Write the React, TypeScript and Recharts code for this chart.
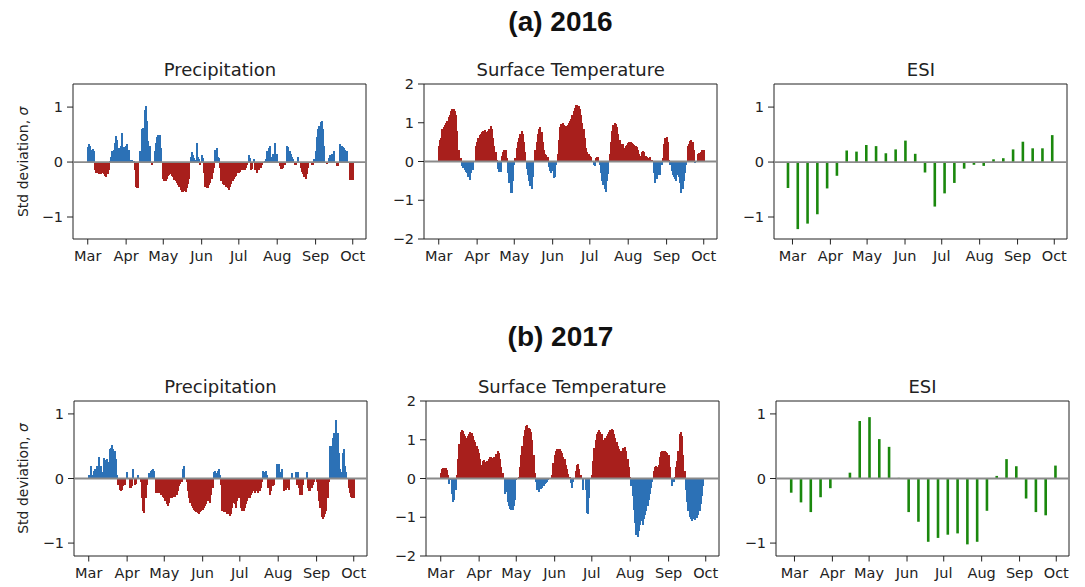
import React from 'react'
import { BarChart, Bar, XAxis, YAxis, Cell, ReferenceLine, ReferenceArea } from 'recharts'

// days counted from 1 March
const monthTicks = [0, 31, 61, 92, 122, 153, 184, 214]
const monthNames = ['Mar', 'Apr', 'May', 'Jun', 'Jul', 'Aug', 'Sep', 'Oct']

// daily anomalies, 1 Mar .. 1 Oct (one line per month)
const precip2016 = [
  0.28, 0.33, 0.3, 0.22, 0.24, 0.2, -0.15, -0.2, -0.2, -0.21, -0.2, -0.22, -0.2, -0.22, -0.25, -0.27, -0.22, -0.15, 0.02, 0.1, 0.2, 0.22, 0.35, 0.47, 0.4, 0.25, 0.2, 0.3, 0.52, 0.27, 0.25,
  0.3, 0.33, 0.22, 0.03, 0.03, 0.04, 0.02, -0.15, -0.45, -0.48, -0.47, 0.2, 0, 0.6, 0.62, 0.95, 1.02, 0.75, 0.38, 0.3, 0, -0.05, 0, 0.2, 0.35, 0.45, 0.5, 0.5, 0.25, 0,
  -0.3, -0.35, -0.35, -0.3, -0.25, -0.23, -0.22, -0.25, -0.28, -0.32, -0.35, -0.38, -0.42, -0.45, -0.5, -0.55, -0.55, -0.53, -0.55, -0.48, -0.4, -0.3, 0.1, 0.18, 0.12, 0.08, 0.03, 0.35, 0.1, 0.05, -0.05,
  0.12, 0.08, -0.2, -0.45, -0.48, -0.47, -0.42, -0.38, -0.3, -0.2, -0.1, 0.22, 0.25, 0.1, 0.08, -0.1, -0.35, -0.4, -0.42, -0.38, -0.45, -0.48, -0.5, -0.45, -0.4, -0.35, -0.3, -0.28, -0.25, -0.2,
  -0.2, -0.18, -0.15, -0.15, -0.12, -0.15, -0.1, -0.05, 0.12, 0.08, -0.15, -0.12, 0.05, -0.15, -0.1, -0.2, -0.15, -0.08, -0.1, -0.05, 0, 0.02, 0.05, 0.2, 0.25, 0.3, 0.1, 0.08, 0.15, 0.35, 0.15,
  0.15, 0, -0.08, -0.12, -0.12, -0.1, -0.05, 0, 0.3, 0.28, 0.2, 0.15, 0.1, 0.05, -0.05, -0.05, 0, 0.1, 0, -0.1, -0.18, -0.22, -0.28, -0.3, -0.22, -0.1, 0, 0, -0.05, -0.05, 0.05,
  0.2, 0.45, 0.6, 0.65, 0.72, 0.75, 0.6, 0.3, 0, -0.03, 0, 0.08, 0.12, 0.15, 0.1, 0.2, 0, -0.08, -0.08, 0, 0.32, 0.3, 0.28, 0.25, 0.22, 0.2, 0, 0, -0.33, -0.33,
  -0.33,
]

const temp2016 = [
  0.4, 0.55, 0.6, 0.85, 0.9, 0.95, 1.0, 1.05, 1.15, 1.2, 1.3, 1.35, 1.35, 1.3, 1.2, 0.8, 0.3, 0.08, 0.1, -0.12, -0.18, -0.22, -0.28, -0.3, -0.4, -0.48, -0.3, -0.2, -0.22, 0, 0.4,
  0.5, 0.6, 0.68, 0.72, 0.75, 0.8, 0.82, 0.75, 0.6, 0.8, 0.85, 0.92, 0.85, 0.6, 0.4, 0.25, 0.05, -0.2, -0.28, -0.28, 0.15, 0.25, 0.3, 0.3, 0.1, -0.3, -0.55, -0.8, -0.82, -0.5,
  -0.1, 0.1, 0.35, 0.5, 0.6, 0.72, 0.78, 0.72, 0.5, 0.25, -0.2, -0.35, -0.5, -0.62, -0.72, -0.4, 0, 0.3, 0.5, 0.7, 0.85, 0.88, 0.75, 0.5, 0.3, 0.2, 0.18, 0.12, -0.15, -0.25, -0.3,
  -0.25, -0.42, -0.4, -0.1, 0.2, 0.55, 0.9, 0.98, 1.0, 0.95, 0.9, 0.92, 0.95, 1.0, 1.05, 1.1, 1.2, 1.3, 1.38, 1.45, 1.45, 1.42, 1.35, 1.2, 1.0, 0.85, 0.6, 0.35, 0.25, 0.2,
  0.15, 0.12, 0, -0.1, -0.12, 0.1, 0.12, 0.12, -0.1, -0.3, -0.5, -0.6, -0.72, -0.78, -0.5, -0.32, 0.2, 0.5, 0.8, 0.95, 1.0, 0.98, 0.9, 0.7, 0.55, 0.45, 0.4, 0.45, 0.35, 0.4, 0.42,
  0.48, 0.5, 0.5, 0.48, 0.45, 0.42, 0.4, 0.38, 0.3, 0.2, 0.15, 0.25, 0.28, 0.25, 0.15, 0.12, 0.1, 0.1, 0.12, 0.05, 0, -0.3, -0.55, -0.45, -0.35, -0.1, -0.35, -0.1, 0.1, 0.45, 0.6,
  0.62, 0.5, 0.05, -0.1, -0.25, -0.35, -0.4, -0.45, -0.5, -0.35, -0.4, -0.55, -0.82, -0.7, -0.5, -0.3, -0.1, 0.4, 0.45, 0.52, 0.55, 0.5, 0.3, -0.05, 0, 0.2, 0.22, 0.22, 0.25, 0.3,
  0.3,
]

const precip2017 = [
  0.05, 0.05, 0.2, 0.05, 0.12, 0.15, 0.1, 0.2, 0.34, 0.15, 0.2, 0.1, 0.32, 0.28, 0.15, 0.3, 0.25, 0.45, 0.48, 0.52, 0.45, 0.42, 0.3, 0.05, -0.1, -0.18, -0.2, -0.18, -0.12, -0.1, 0,
  0.1, 0, -0.15, -0.15, -0.12, 0.15, -0.1, -0.08, 0, 0.05, 0, -0.05, -0.3, -0.5, -0.53, -0.3, -0.1, 0, 0.08, 0.12, 0.13, 0.15, 0.12, -0.22, -0.23, -0.23, -0.22, -0.25, -0.25, -0.28,
  -0.3, -0.35, -0.4, -0.42, -0.38, -0.3, -0.3, -0.28, -0.28, -0.28, -0.25, -0.2, -0.12, -0.08, -0.05, 0.15, 0.2, 0, -0.05, -0.2, -0.3, -0.38, -0.42, -0.45, -0.48, -0.5, -0.52, -0.53, -0.55, -0.52, -0.5,
  -0.48, -0.45, -0.42, -0.4, -0.35, -0.3, -0.38, -0.25, -0.15, 0.1, 0.12, 0.08, 0.12, 0.15, 0.05, -0.1, -0.5, -0.52, -0.5, -0.52, -0.55, -0.55, -0.58, -0.55, -0.45, -0.38, -0.4, -0.45, -0.35, -0.3,
  -0.28, -0.45, -0.5, -0.5, -0.45, -0.4, -0.35, -0.3, -0.3, -0.25, -0.22, -0.2, -0.22, -0.2, -0.18, -0.22, -0.2, -0.15, -0.05, 0.12, 0.1, 0.12, 0.05, -0.15, -0.25, -0.2, -0.1, -0.12, -0.1, 0, 0.22,
  0.15, 0.23, 0.1, 0.15, 0, -0.2, -0.18, -0.15, -0.15, -0.18, 0, 0.08, 0, 0, 0.1, -0.1, 0.1, -0.15, -0.25, -0.25, -0.1, 0, 0, 0.1, -0.15, -0.2, -0.2, -0.15, -0.1, -0.05, 0,
  -0.05, -0.2, -0.35, -0.45, -0.6, -0.62, -0.6, -0.55, -0.5, -0.3, -0.05, 0.5, 0.5, 0.62, 0.7, 0.65, 0.9, 0.7, 0.4, 0.15, 0.1, 0.4, 0.45, 0.2, 0.1, 0, -0.15, -0.22, -0.28, -0.3,
  -0.3,
]

const temp2017 = [
  0.15, 0.25, 0.28, 0.28, 0.27, 0.22, 0.1, -0.15, -0.05, -0.4, -0.6, -0.55, -0.3, 0.1, 0.5, 0.9, 1.2, 1.25, 1.22, 1.15, 1.1, 1.05, 1.1, 1.15, 1.2, 1.18, 1.1, 1.0, 0.95, 0.85, 0.75,
  0.65, 0.5, 0.35, 0.45, 0.48, 0.42, 0.45, 0.4, 0.5, 0.55, 0.55, 0.52, 0.55, 0.5, 0.62, 0.7, 0.65, 0.5, 0.3, 0.15, 0, -0.4, -0.35, -0.6, -0.7, -0.78, -0.8, -0.82, -0.7, -0.55,
  -0.05, 0, 0.05, 0.3, 0.6, 0.85, 1.1, 1.25, 1.35, 1.38, 1.3, 1.28, 1.2, 1.0, 0.6, 0.15, -0.1, -0.3, -0.35, -0.2, -0.28, -0.25, -0.2, -0.15, -0.12, -0.08, -0.05, 0, 0, 0.1, 0.4,
  0.6, 0.7, 0.75, 0.75, 0.75, 0.72, 0.65, 0.55, 0.5, 0.35, 0.25, 0.12, 0.03, -0.12, -0.25, -0.1, 0, 0.2, 0.35, 0.38, 0.25, 0.1, 0, -0.3, 0, -0.3, -0.9, -0.92, -0.5, 0,
  0.1, 0.45, 0.8, 1.0, 1.15, 1.2, 1.25, 1.2, 1.15, 1.0, 0.95, 1.05, 1.1, 1.15, 1.2, 1.25, 1.28, 1.25, 1.15, 1.05, 0.95, 0.85, 0.75, 0.7, 0.72, 0.78, 0.8, 0.82, 0.7, 0.5, 0.3,
  0.05, -0.2, -0.45, -0.8, -1.15, -1.45, -1.5, -1.35, -1.2, -1.1, -1.2, -1.05, -0.95, -0.85, -0.7, -0.55, -0.4, -0.25, -0.1, 0.2, 0.3, 0.32, 0.3, 0.35, 0.55, 0.68, 0.72, 0.7, 0.7, 0.68, 0.66,
  0.6, 0.3, 0, -0.2, -0.1, 0.05, 0.3, 0.45, 0.7, 1.15, 1.2, 1.1, 0.6, 0.2, -0.3, -0.6, -0.85, -1.0, -1.05, -1.1, -1.05, -1.08, -1.0, -1.02, -0.95, -0.85, -0.65, -0.45, -0.2, 0,
  0,
]

// 8-day ESI composites (day offset from 1 March)
const esiDays2016 = [-4, 4, 12, 20, 28, 36, 44, 52, 60, 68, 76, 84, 92, 100, 108, 116, 124, 132, 140, 148, 156, 164, 172, 180, 188, 196, 204, 212]
const esi2016 = [-0.47, -1.22, -1.12, -0.95, -0.48, -0.25, 0.21, 0.19, 0.31, 0.29, 0.16, 0.23, 0.39, 0.15, -0.19, -0.81, -0.57, -0.38, -0.12, -0.05, -0.07, 0.05, 0.07, 0.23, 0.37, 0.25, 0.25, 0.49]
const esiDays2017 = [-3, 5, 13, 21, 29, 37, 45, 53, 61, 69, 77, 85, 93, 101, 109, 117, 125, 133, 141, 149, 157, 165, 173, 181, 189, 197, 205, 213]
const esi2017 = [-0.22, -0.37, -0.52, -0.29, -0.15, 0, 0.09, 0.89, 0.95, 0.61, 0.49, 0.01, -0.52, -0.67, -0.98, -0.92, -0.87, -0.85, -1.02, -0.98, -0.5, 0.04, 0.3, 0.19, -0.31, -0.52, -0.57, 0.2]

const dailyDays = precip2016.map((_, i) => i)

const RED = '#a81f1c'
const BLUE = '#2c71b6'
const GREEN = '#1a880d'
const INK = '#222'

const PW = 293
const PH = 155
const YW = 50
const MT = 14
const MR = 10
const XH = 36

const fmtY = (v: number) => (v < 0 ? `\u2212${-v}` : `${v}`)
const fmtX = (v: number) => monthNames[monthTicks.indexOf(v)] ?? ''

// daily bars: widened and pixel-snapped so neighbouring days merge into a solid fill
const DailyBar = (props: any) => {
  const { x, y, width, height, fill } = props
  if (!height) return null
  const top = Math.min(y, y + height)
  return <rect x={x - 0.4} y={top} width={width + 1} height={Math.abs(height)} fill={fill} shapeRendering="crispEdges" />
}

type PanelProps = {
  left: number
  top: number
  days: number[]
  values: number[]
  xDomain: [number, number]
  yDomain: [number, number]
  yTicks: number[]
  colorOf: (v: number) => string
  barSize?: number
  daily?: boolean
}

function Panel({ left, top, days, values, xDomain, yDomain, yTicks, colorOf, barSize, daily }: PanelProps) {
  const data = values.map((v, i) => ({ day: days[i], v }))
  return (
    <div style={{ position: 'absolute', left: left - YW, top: top - MT }}>
      <BarChart width={YW + PW + MR} height={MT + PH + XH} data={data}
        margin={{ top: MT, right: MR, left: 0, bottom: 0 }} barCategoryGap={0} barGap={0}>
        <XAxis dataKey="day" type="number" domain={xDomain} allowDataOverflow ticks={monthTicks}
          interval={0} tickFormatter={fmtX} height={XH} axisLine={false}
          tickSize={5.5} tickMargin={6} tickLine={{ stroke: INK }}
          tick={{ fill: INK, fontSize: 14.5 }} />
        <YAxis type="number" domain={yDomain} allowDataOverflow ticks={yTicks} interval={0}
          tickFormatter={fmtY} width={YW} axisLine={false}
          tickSize={6} tickMargin={4} tickLine={{ stroke: INK }}
          tick={{ fill: INK, fontSize: 14.5 }} />
        <Bar dataKey="v" barSize={barSize} isAnimationActive={false} shape={daily ? DailyBar : undefined}>
          {data.map((d, i) => (
            <Cell key={i} fill={colorOf(d.v)} />
          ))}
        </Bar>
        <ReferenceLine y={0} stroke="#8a8a8a" strokeWidth={1.8} />
        <ReferenceArea x1={xDomain[0]} x2={xDomain[1]} y1={yDomain[0]} y2={yDomain[1]}
          fill="none" stroke={INK} strokeWidth={1} />
      </BarChart>
    </div>
  )
}

const dailyX: [number, number] = [-11.9, 224.7]
const esiX: [number, number] = [-15.1, 224.4]
const precipColor = (v: number) => (v >= 0 ? BLUE : RED)
const tempColor = (v: number) => (v >= 0 ? RED : BLUE)
const esiColor = () => GREEN

const rowTops = [84.3, 401]
const colLefts = [[73.4, 424.2, 774.4], [74, 425.6, 776]]
const yearTitles = ['(a) 2016', '(b) 2017']
const yearBaselines = [31, 346]
const panelTitles = ['Precipitation', 'Surface Temperature', 'ESI']

export default function App() {
  const rows = [
    { precip: precip2016, temp: temp2016, esiDays: esiDays2016, esi: esi2016, yDom: [-1.4, 1.42] as [number, number] },
    { precip: precip2017, temp: temp2017, esiDays: esiDays2017, esi: esi2017, yDom: [-1.2, 1.2] as [number, number] },
  ]
  return (
    <div style={{ position: 'absolute', left: 0, top: 0, width: 1085, height: 587, background: '#fff', fontFamily: '"DejaVu Sans", sans-serif', overflow: 'hidden' }}>
      <svg width={1085} height={587} style={{ position: 'absolute', left: 0, top: 0 }}>
        {yearTitles.map((t, r) => (
          <text key={t} x={560.5} y={yearBaselines[r]} textAnchor="middle" fontFamily='"Liberation Sans", Arial, sans-serif' fontWeight="bold" fontSize={28} fill="#111">{t}</text>
        ))}
        {rowTops.map((top, r) => (
          <g key={r}>
            {panelTitles.map((t, c) => (
              <text key={t} x={colLefts[r][c] + PW / 2} y={top - 8} textAnchor="middle" fontSize={18} fill={INK}>{t}</text>
            ))}
            <text transform={`translate(27.5, ${top + PH / 2}) rotate(-90)`} textAnchor="middle" fontSize={14} fill={INK}>
              Std deviation, <tspan fontStyle="italic">σ</tspan>
            </text>
          </g>
        ))}
      </svg>
      {rows.map((row, r) => (
        <React.Fragment key={r}>
          <Panel left={colLefts[r][0]} top={rowTops[r]} days={dailyDays} values={row.precip}
            xDomain={dailyX} yDomain={row.yDom} yTicks={[-1, 0, 1]} colorOf={precipColor} daily />
          <Panel left={colLefts[r][1]} top={rowTops[r]} days={dailyDays} values={row.temp}
            xDomain={dailyX} yDomain={[-2, 2]} yTicks={[-2, -1, 0, 1, 2]} colorOf={tempColor} daily />
          <Panel left={colLefts[r][2]} top={rowTops[r]} days={row.esiDays} values={row.esi}
            xDomain={esiX} yDomain={row.yDom} yTicks={[-1, 0, 1]} colorOf={esiColor} barSize={2.6} />
        </React.Fragment>
      ))}
    </div>
  )
}
